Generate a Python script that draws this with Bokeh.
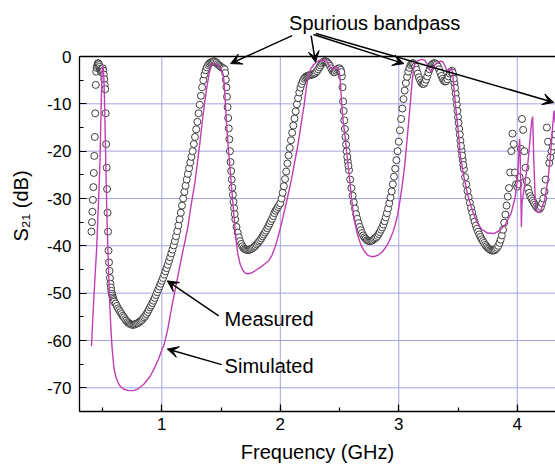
import numpy as np
from bokeh.plotting import figure
from bokeh.models import (Range1d, SingleIntervalTicker, PrintfTickFormatter,
                          Arrow, VeeHead, Label, Span)
from bokeh.embed import file_html
from bokeh.resources import INLINE

# ---------------- data ----------------
# Measured S21, first narrow passband (fine sweep)
meas_f_peak1 = [0.406, 0.410, 0.414, 0.418, 0.422, 0.426, 0.430, 0.434, 0.438, 0.442,
                0.446, 0.450, 0.454, 0.458, 0.462, 0.466, 0.470, 0.474, 0.478, 0.482,
                0.486, 0.490, 0.494, 0.498, 0.502, 0.506, 0.510, 0.514, 0.518, 0.522,
                0.526, 0.530, 0.534, 0.538, 0.542, 0.546, 0.550, 0.554, 0.558, 0.562,
                0.566, 0.570, 0.574, 0.578, 0.582, 0.586, 0.590, 0.594, 0.598]
meas_db_peak1 = [-37.0, -35.0, -32.8, -30.3, -27.6, -24.6, -21.0, -17.0, -12.0, -6.0,
                 -3.2, -2.4, -2.0, -1.6, -1.4, -1.5, -1.8, -2.2, -2.6, -2.9,
                 -3.1, -3.3, -3.0, -2.6, -2.5, -3.0, -3.8, -4.8, -6.0, -6.9,
                 -12.0, -18.5, -23.5, -28.0, -33.0, -37.0, -41.0, -43.5, -45.3, -46.8,
                 -48.0, -48.8, -49.5, -50.1, -50.5, -50.9, -51.2, -51.5, -51.8]

# Measured S21 from 0.61 GHz upward, 0.01 GHz steps
meas_f0 = 0.61
meas_df = 0.01
meas_db_sweep = [
    -52.2, -52.7, -53.2, -53.6, -54.0, -54.4, -54.8, -55.1, -55.5, -55.8,   # 0.61-0.70
    -56.1, -56.3, -56.5, -56.6, -56.7, -56.7, -56.6, -56.5, -56.4, -56.3,   # 0.71-0.80
    -56.1, -55.9, -55.7, -55.4, -55.1, -54.8, -54.4, -54.0, -53.5, -53.0,   # 0.81-0.90
    -52.6, -52.1, -51.6, -51.0, -50.4, -49.8, -49.2, -48.6, -48.0, -47.4,   # 0.91-1.00
    -46.8, -46.1, -45.4, -44.7, -44.0, -43.2, -42.4, -41.6, -40.8, -39.9,   # 1.01-1.10
    -39.0, -38.0, -36.9, -35.7, -34.4, -33.0, -31.5, -30.0, -28.6, -27.3,   # 1.11-1.20
    -26.0, -24.8, -23.6, -22.4, -21.2, -20.0, -18.5, -17.0, -15.4, -13.8,   # 1.21-1.30
    -12.0, -10.2, -8.3, -6.5, -5.0, -3.8, -2.9, -2.3, -1.8, -1.5,           # 1.31-1.40
    -1.3, -1.2, -1.1, -1.0, -1.1, -1.3, -1.6, -1.8, -2.0, -2.2,             # 1.41-1.50
    -2.4, -2.5, -2.7, -4.9, -8.5, -13.0, -17.5, -22.3, -26.0, -29.2,        # 1.51-1.60
    -32.0, -34.4, -36.0, -37.2, -38.2, -39.0, -39.6, -40.1, -40.5, -40.7,   # 1.61-1.70
    -40.8, -40.9, -40.9, -40.8, -40.7, -40.6, -40.4, -40.2, -40.0, -39.7,   # 1.71-1.80
    -39.4, -39.1, -38.8, -38.4, -38.0, -37.6, -37.2, -36.8, -36.3, -35.8,   # 1.81-1.90
    -35.3, -34.8, -34.3, -33.7, -33.1, -32.6, -32.2, -31.8, -31.4, -31.0,   # 1.91-2.00
    -30.0, -28.8, -27.4, -25.9, -24.3, -22.6, -20.9, -19.3, -17.7, -16.1,   # 2.01-2.10
    -14.6, -13.1, -11.6, -10.1, -8.8, -7.6, -6.6, -5.8, -5.2, -4.7,         # 2.11-2.20
    -4.4, -4.2, -4.1, -4.0, -3.9, -3.9, -3.8, -3.7, -3.6, -3.4,             # 2.21-2.30
    -3.1, -2.7, -2.3, -1.9, -1.5, -1.2, -1.0, -1.0, -1.1, -1.3,             # 2.31-2.40
    -1.6, -2.0, -2.5, -3.0, -3.3, -3.3, -3.0, -2.7, -2.5, -2.5,             # 2.41-2.50
    -2.8, -4.2, -9.5, -13.5, -17.0, -20.0, -22.2, -24.0, -26.0, -27.8,      # 2.51-2.60
    -29.4, -30.8, -32.1, -33.3, -34.3, -35.2, -36.0, -36.7, -37.3, -37.8,   # 2.61-2.70
    -38.2, -38.5, -38.8, -38.9, -39.0, -39.0, -38.9, -38.8, -38.6, -38.4,   # 2.71-2.80
    -38.2, -37.9, -37.5, -37.1, -36.6, -36.1, -35.5, -34.8, -34.0, -33.1,   # 2.81-2.90
    -32.1, -31.0, -29.8, -28.5, -27.0, -25.4, -23.7, -21.9, -20.0, -18.0,   # 2.91-3.00
    -15.6, -13.2, -11.0, -9.0, -7.2, -5.6, -4.3, -3.2, -2.4, -1.8,          # 3.01-3.10
    -1.5, -1.4, -1.6, -2.1, -2.8, -3.6, -4.4, -5.0, -5.5, -5.8,             # 3.11-3.20
    -5.8, -5.5, -4.9, -4.2, -3.4, -2.7, -2.1, -1.7, -1.5, -1.4,             # 3.21-3.30
    -1.5, -1.7, -2.1, -2.7, -3.4, -4.1, -4.7, -5.1, -5.3, -5.2,             # 3.31-3.40
    -4.8, -4.2, -3.6, -3.2, -3.0, -4.0, -5.6, -7.8, -10.2, -12.8,           # 3.41-3.50
    -15.3, -17.8, -19.9, -21.9, -23.8, -25.5, -27.0, -28.4, -29.7, -30.9,   # 3.51-3.60
    -32.0, -33.0, -34.0, -34.9, -35.7, -36.4, -37.0, -37.6, -38.1, -38.6,   # 3.61-3.70
    -39.0, -39.4, -39.8, -40.1, -40.4, -40.6, -40.8, -40.9, -41.0, -41.0,   # 3.71-3.80
    -40.9, -40.7, -40.4, -40.0, -39.4, -38.7, -37.8, -36.6, -35.1, -33.4,   # 3.81-3.90
    -31.5, -29.6, -27.8, -24.5, -20.0, -16.3, -18.5, -24.5, -27.0, -27.5,   # 3.91-4.00
    -27.0, -25.5, -19.5, -13.2, -15.5, -20.0, -23.5, -26.3, -27.9, -28.8,   # 4.01-4.10
    -29.5, -30.0, -30.5, -30.9, -31.3, -31.7, -32.0, -32.2, -32.2, -31.8,   # 4.11-4.20
    -31.0, -30.0, -28.5, -26.0, -15.0, -18.0, -22.5, -21.3, -20.0, -19.0,   # 4.21-4.30
    -17.8, -16.5,                                                           # 4.31-4.32
]

# Extra measured readings on the steep passband edges
meas_f_edges = [1.535, 1.545, 1.555, 1.565, 1.575, 1.585, 1.595, 1.605, 1.615,
                2.515, 2.525, 2.535, 2.545, 2.555, 2.565, 2.575,
                3.455, 3.465, 3.475, 3.485, 3.495, 3.505, 3.515, 3.525, 3.535, 3.545]
meas_db_edges = [-3.5, -6.5, -10.7, -15.2, -20.0, -24.2, -27.7, -30.7, -33.3,
                 -3.3, -6.5, -11.5, -15.3, -18.6, -21.2, -23.1,
                 -3.4, -4.7, -6.6, -9.0, -11.5, -14.0, -16.5, -18.9, -20.9, -22.9]

# Simulated S21
sim_f = [0.406, 0.42, 0.435, 0.45, 0.46, 0.47, 0.478, 0.485, 0.49, 0.495,
         0.50, 0.505, 0.51, 0.515, 0.52, 0.525, 0.53, 0.535, 0.54, 0.55,
         0.56, 0.57, 0.58, 0.595, 0.61, 0.63, 0.65, 0.68, 0.72, 0.76,
         0.80, 0.85, 0.90, 0.935, 0.97, 1.00, 1.02, 1.05, 1.08, 1.11,
         1.14, 1.17, 1.20, 1.22, 1.24, 1.26, 1.28, 1.30, 1.32, 1.34,
         1.36, 1.38, 1.40, 1.42, 1.44, 1.46, 1.48, 1.50, 1.52, 1.53,
         1.54, 1.55, 1.56, 1.57, 1.58, 1.59, 1.60, 1.61, 1.62, 1.63,
         1.64, 1.66, 1.68, 1.70, 1.72, 1.75, 1.78, 1.81, 1.84, 1.87,
         1.90, 1.93, 1.96, 1.98, 2.00, 2.05, 2.09, 2.12, 2.15, 2.18,
         2.20, 2.22, 2.24, 2.26, 2.28, 2.30, 2.32, 2.34, 2.36, 2.38,
         2.40, 2.42, 2.44, 2.455, 2.47, 2.49, 2.50, 2.51, 2.52, 2.53,
         2.54, 2.55, 2.57, 2.58, 2.60, 2.62, 2.65, 2.68, 2.71, 2.74,
         2.77, 2.80, 2.83, 2.86, 2.89, 2.92, 2.95, 2.97, 2.99, 3.01,
         3.03, 3.05, 3.07, 3.09, 3.10, 3.11, 3.12, 3.13, 3.14, 3.16,
         3.18, 3.20, 3.22, 3.24, 3.26, 3.27, 3.28, 3.30, 3.32, 3.35,
         3.37, 3.39, 3.41, 3.43, 3.447, 3.455, 3.467, 3.48, 3.495, 3.51,
         3.52, 3.55, 3.58, 3.62, 3.66, 3.70, 3.75, 3.80, 3.85, 3.90,
         3.95, 3.98, 4.00, 4.01, 4.015, 4.02, 4.025, 4.03, 4.035, 4.04,
         4.06, 4.09, 4.11, 4.12, 4.13, 4.14, 4.15, 4.16, 4.18, 4.20,
         4.23, 4.26, 4.28, 4.30, 4.31, 4.32]
sim_db = [-61.2, -54.0, -47.0, -40.5, -34.0, -28.0, -22.0, -14.0, -8.0, -3.5,
          -2.0, -2.2, -4.0, -8.0, -14.0, -20.0, -26.0, -32.0, -37.0, -45.0,
          -52.0, -57.5, -61.5, -65.7, -67.5, -68.9, -69.7, -70.3, -70.6, -70.6,
          -70.2, -69.2, -67.6, -66.0, -64.0, -62.0, -60.8, -57.6, -53.4, -49.6,
          -45.8, -42.0, -38.5, -36.0, -32.5, -29.5, -26.5, -22.5, -18.5, -14.0,
          -10.0, -6.5, -3.5, -1.8, -1.4, -1.6, -2.0, -2.6, -4.0, -7.0,
          -11.5, -15.5, -19.0, -22.0, -25.0, -28.0, -31.0, -34.0, -37.0, -39.5,
          -41.5, -43.8, -45.0, -45.7, -45.9, -45.8, -45.4, -44.9, -44.4, -43.8,
          -43.2, -42.0, -40.0, -38.2, -36.3, -31.0, -26.5, -22.5, -18.5, -13.5,
          -10.5, -6.5, -3.8, -2.5, -1.8, -1.3, -0.9, -0.8, -0.8, -0.8,
          -1.3, -2.2, -2.8, -2.5, -2.1, -2.5, -3.5, -6.5, -10.6, -13.5,
          -15.5, -17.6, -22.5, -24.7, -29.5, -33.8, -37.5, -39.8, -41.2, -42.0,
          -42.3, -42.2, -41.9, -41.3, -40.3, -39.0, -37.2, -35.5, -33.5, -30.5,
          -27.0, -23.0, -17.6, -12.0, -9.2, -6.0, -3.5, -2.0, -1.4, -0.9,
          -0.7, -0.6, -0.8, -1.6, -2.7, -3.2, -3.0, -2.0, -1.4, -1.0,
          -1.1, -2.0, -3.2, -2.9, -2.5, -3.5, -7.0, -10.5, -14.1, -17.8,
          -21.1, -25.4, -29.0, -32.5, -35.0, -36.5, -37.3, -37.4, -36.8, -35.5,
          -33.0, -30.0, -26.5, -22.5, -19.5, -17.4, -21.0, -28.0, -36.0, -31.0,
          -27.5, -22.5, -17.0, -14.0, -12.7, -22.0, -29.0, -32.6, -33.0, -32.5,
          -30.5, -26.0, -21.0, -14.5, -11.4, -14.0]

# Tick / grid values
x_ticks = [1, 2, 3, 4]
y_ticks = [-70, -60, -50, -40, -30, -20, -10, 0]
x_lim = (0.305, 4.323)
y_lim = (-75, 0)

meas_f = (list(meas_f_peak1)
          + [round(meas_f0 + meas_df * i, 3) for i in range(len(meas_db_sweep))]
          + list(meas_f_edges))
meas_db = list(meas_db_peak1) + list(meas_db_sweep) + list(meas_db_edges)

FONT = "Liberation Sans"
W, H = 555, 468
left, bottom, top_px = 79, 57, 56
px_per_db = (H - bottom - top_px) / (y_lim[1] - y_lim[0])
y_top = y_lim[1] + top_px / px_per_db     # room above 0 dB for the annotations

p = figure(width=W, height=H, output_backend="svg", toolbar_location=None,
           x_range=Range1d(*x_lim), y_range=Range1d(y_lim[0], y_top),
           min_border_left=left, min_border_top=0, min_border_bottom=bottom,
           min_border_right=0, outline_line_color=None,
           background_fill_color="white", border_fill_color="white")
p.grid.visible = False

p.xaxis.ticker = SingleIntervalTicker(interval=1, num_minor_ticks=2)
p.yaxis.ticker = SingleIntervalTicker(interval=10, num_minor_ticks=2)
p.yaxis.bounds = y_lim
p.yaxis.formatter = PrintfTickFormatter(format="%d")
p.xaxis.formatter = PrintfTickFormatter(format="%d")

for ax in (p.xaxis[0], p.yaxis[0]):
    ax.axis_line_color = "black"
    ax.axis_line_width = 1.3
    ax.major_tick_in = 7
    ax.major_tick_out = 0
    ax.minor_tick_in = 4
    ax.minor_tick_out = 0
    ax.major_tick_line_color = "black"
    ax.minor_tick_line_color = "black"
    ax.major_tick_line_width = 1.2
    ax.minor_tick_line_width = 1.2
    ax.major_label_text_font = FONT
    ax.major_label_text_font_size = "17px"
    ax.major_label_text_color = "black"
    ax.axis_label_text_font = FONT
    ax.axis_label_text_font_size = "20px"
    ax.axis_label_text_font_style = "normal"
    ax.axis_label_text_color = "black"

p.xaxis.axis_label = "Frequency (GHz)"
p.xaxis.major_label_standoff = 6
p.xaxis.axis_label_standoff = 8
p.yaxis.axis_label = "S\u2082\u2081 (dB)"
p.yaxis.major_label_standoff = 8
p.yaxis.axis_label_standoff = 12

# grid lines limited to the data box
GRID = "#a3a3e0"
p.segment(x0=x_ticks, y0=[y_lim[0]] * len(x_ticks), x1=x_ticks, y1=[y_lim[1]] * len(x_ticks),
          line_color=GRID, line_width=1)
hy = [v for v in y_ticks if v != 0]
p.segment(x0=[x_lim[0]] * len(hy), y0=hy, x1=[x_lim[1]] * len(hy), y1=hy,
          line_color=GRID, line_width=1)

# measured (open circles) and simulated (line)
p.scatter(meas_f, meas_db, marker="circle", size=7, line_color="#2a2a2a",
          fill_color="white", line_width=0.9)
p.line(sim_f, sim_db, line_color="#c13db6", line_width=1.4)

# top frame line at 0 dB
p.add_layout(Span(location=0, dimension="width", line_color="black", line_width=1.3))

# annotations
def arrow(x0, y0, x1, y1):
    p.add_layout(Arrow(x_start=x0, y_start=y0, x_end=x1, y_end=y1,
                       line_color="black", line_width=1.5,
                       end=VeeHead(size=11, fill_color="black", line_color="black")))

arrow(2.10, 4.4, 1.58, -1.5)
arrow(2.26, 4.4, 2.297, -1.2)
arrow(2.28, 4.65, 3.043, -1.5)
arrow(2.30, 4.85, 4.309, -9.7)
arrow(1.48, -54.8, 1.046, -47.4)
arrow(1.505, -65.1, 1.046, -61.8)

p.add_layout(Label(x=2.797, y=7.0, text="Spurious bandpass", text_align="center",
                   text_baseline="middle", text_font=FONT, text_font_size="20px",
                   text_color="black"))
p.add_layout(Label(x=1.53, y=-55.4, text="Measured", text_align="left",
                   text_baseline="middle", text_font=FONT, text_font_size="20px",
                   text_color="black"))
p.add_layout(Label(x=1.53, y=-65.3, text="Simulated", text_align="left",
                   text_baseline="middle", text_font=FONT, text_font_size="20px",
                   text_color="black"))

open("out.html", "w").write(file_html(p, INLINE))
